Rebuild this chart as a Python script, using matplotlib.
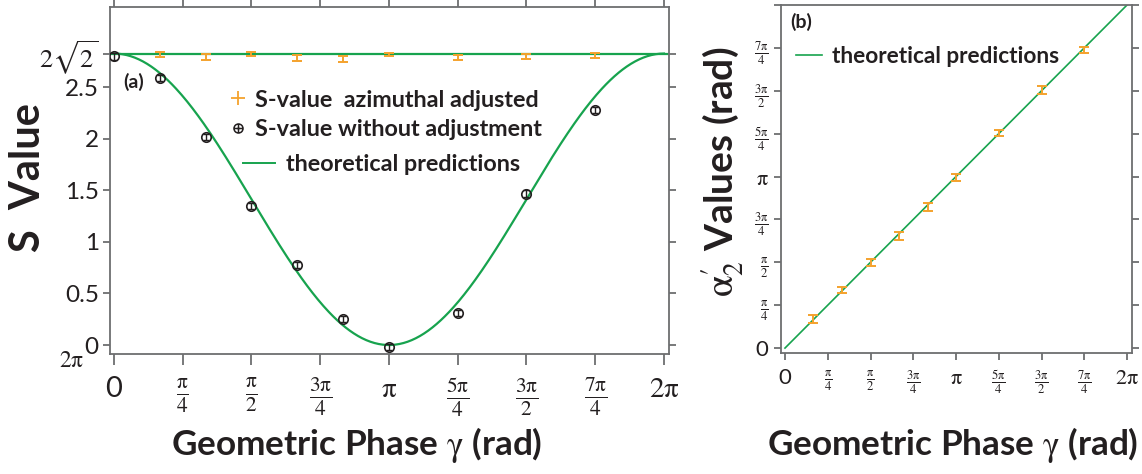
import numpy as np
import matplotlib.pyplot as plt
from matplotlib.path import Path
from matplotlib.lines import Line2D

pi = np.pi

# panel (a): Bell S-value vs geometric phase
gamma_raw = pi * np.array([0, 1/6, 1/3, 1/2, 2/3, 5/6, 1, 5/4, 3/2, 7/4])
s_raw = [2.80, 2.59, 2.02, 1.35, 0.78, 0.25, -0.02, 0.31, 1.47, 2.28]
s_raw_err = [0.03, 0.03, 0.03, 0.03, 0.03, 0.03, 0.03, 0.03, 0.03, 0.03]

gamma_adj = pi * np.array([1/6, 1/3, 1/2, 2/3, 5/6, 1, 5/4, 3/2, 7/4])
s_adj = [2.82, 2.795, 2.82, 2.785, 2.775, 2.82, 2.79, 2.80, 2.81]
s_adj_err = [0.025, 0.025, 0.02, 0.025, 0.025, 0.015, 0.025, 0.025, 0.025]

# panel (b): alpha'_2 vs geometric phase
gamma_b = gamma_adj
alpha2 = [0.53, 1.06, 1.57, 2.05, 2.58, 3.12, 3.94, 4.73, 5.46]
alpha2_err = [0.07, 0.06, 0.06, 0.07, 0.07, 0.06, 0.05, 0.07, 0.05]

PI = r'\mathrm{\pi}'
pi_ticks = pi * np.arange(9) / 4
pi_labels = ['0', r'$\frac{%s}{4}$' % PI, r'$\frac{%s}{2}$' % PI, r'$\frac{3%s}{4}$' % PI,
             r'$%s$' % PI, r'$\frac{5%s}{4}$' % PI, r'$\frac{3%s}{2}$' % PI,
             r'$\frac{7%s}{4}$' % PI, r'$2%s$' % PI]

GREEN = '#17a34e'
ORANGE = '#f4a22d'
DARK = '#231f20'
AXC = '#6d6e70'

plt.rcParams['font.family'] = ['Lato', 'DejaVu Sans']
plt.rcParams['mathtext.fontset'] = 'stix'

# circle with a plus inside
oplus = Path.make_compound_path(
    Path.unit_circle(),
    Path([(-1, 0), (1, 0)], [Path.MOVETO, Path.LINETO]),
    Path([(0, -1), (0, 1)], [Path.MOVETO, Path.LINETO]))

fig = plt.figure(figsize=(11.42, 4.74), dpi=100)
ax = fig.add_axes([0.0963, 0.2532, 0.4895, 0.732])
bx = fig.add_axes([0.6839, 0.2553, 0.3074, 0.7342])

# ---- (a)
g = np.linspace(0, 2 * pi, 400)
ax.plot(g, np.sqrt(2) * (1 + np.cos(g)), color=GREEN, lw=1.6, zorder=2)
ax.plot([-0.1, 2 * pi + 0.1], [2 * np.sqrt(2)] * 2, color=GREEN, lw=1.6, zorder=2)
ax.errorbar(gamma_adj, s_adj, yerr=s_adj_err, fmt='none', ecolor=ORANGE,
            elinewidth=1.4, capsize=3.5, capthick=1.4, zorder=3)
ax.errorbar(gamma_raw, s_raw, yerr=s_raw_err, fmt='none', ecolor=DARK,
            elinewidth=1.0, capsize=2.2, zorder=3)
ax.plot(gamma_raw, s_raw, ls='none', marker='o', ms=6.8, mfc='none', mec=DARK,
        mew=1.2, zorder=4)

ax.set_xlim(-0.046, 2 * pi + 0.057)
ax.set_ylim(-0.087, 3.28)
ax.set_xticks(pi_ticks)
ax.set_xticklabels(pi_labels)
ax.set_yticks([0, 0.5, 1, 1.5, 2, 2.5, 2 * np.sqrt(2)])
ax.set_yticklabels(['0', '0.5', '1', '1.5', '2', '2.5', r'$2\sqrt{2}$'])
ax.tick_params(axis='x', which='both', direction='out', length=8, width=1.3,
               color=AXC, labelsize=21, pad=8, top=True, labeltop=False,
               labelcolor=DARK)
ax.tick_params(axis='y', direction='out', length=5, width=1.3, color=AXC,
               labelsize=17.5, pad=3, right=True, labelright=False, labelcolor=DARK)
for lab in ax.get_xticklabels()[1:-1]:
    if lab.get_text() != r'$%s$' % PI:
        lab.set_fontsize(22)
ax.get_yticklabels()[-1].set_fontsize(19)
ax.set_ylabel('S  Value', fontsize=30, fontweight='bold', color=DARK)
ax.yaxis.set_label_coords(-0.112, 0.51)
ax.text(-0.046, -0.018, r'$2%s$' % PI, transform=ax.transAxes, fontsize=17,
        ha='right', va='center', color=DARK)
ax.text(0.024, 0.785, '(a)', transform=ax.transAxes, fontsize=14,
        fontweight='bold', color=DARK, va='center')

leg_prop = {'size': 16.8, 'weight': 'bold'}
leg1 = ax.legend(
    [Line2D([], [], ls='none', marker='+', ms=10, mew=1.3, color=ORANGE),
     Line2D([], [], ls='none', marker=oplus, ms=6.5, mfc='none', mec=DARK, mew=1.1)],
    ['S-value  azimuthal adjusted', 'S-value without adjustment'],
    loc='center left', bbox_to_anchor=(0.212, 0.689), frameon=False, prop=leg_prop,
    handlelength=0.8, handletextpad=0.35, labelspacing=0.37, borderaxespad=0,
    borderpad=0, labelcolor=DARK)
ax.add_artist(leg1)
ax.legend([Line2D([], [], color=GREEN, lw=1.4)], ['theoretical predictions'],
          loc='center left', bbox_to_anchor=(0.238, 0.545), frameon=False,
          prop=leg_prop, handlelength=1.37, handletextpad=0.47, borderaxespad=0,
          borderpad=0, labelcolor=DARK)

# ---- (b)
bx.plot([0, 2 * pi], [0, 2 * pi], color=GREEN, lw=1.2, zorder=2)
bx.errorbar(gamma_b, alpha2, yerr=alpha2_err, fmt='none', ecolor=ORANGE,
            elinewidth=1.4, capsize=3.5, capthick=1.4, zorder=3)
bx.set_xlim(-0.073, 2 * pi + 0.092)
bx.set_ylim(-0.09, 2 * pi)
bx.set_xticks(pi_ticks)
bx.set_xticklabels(pi_labels)
bx.set_yticks(pi_ticks)
bx.set_yticklabels(pi_labels[:-1] + [''])
bx.tick_params(axis='both', direction='out', length=5, width=1.3, color=AXC,
               labelsize=13, labelcolor=DARK)
bx.tick_params(axis='x', pad=6)
bx.tick_params(axis='y', right=True, pad=4)
for lab in bx.get_xticklabels() + bx.get_yticklabels():
    if lab.get_text() in ('0', r'$%s$' % PI, r'$2%s$' % PI):
        lab.set_fontsize(16)
bx.set_ylabel(r"$\mathrm{\alpha}_2'$ Values (rad)", fontsize=28, fontweight='bold',
              color=DARK)
bx.yaxis.set_label_coords(-0.1, 0.52)
bx.text(0.025, 0.951, '(b)', transform=bx.transAxes, fontsize=14,
        fontweight='bold', color=DARK, va='center')
bx.legend([Line2D([], [], color=GREEN, lw=1.2)], ['theoretical predictions'],
          loc='center left', bbox_to_anchor=(0.043, 0.851), frameon=False,
          prop={'size': 16.3, 'weight': 'bold'}, handlelength=1.15,
          handletextpad=0.44, borderaxespad=0, borderpad=0, labelcolor=DARK)

for a in (ax, bx):
    for sp in a.spines.values():
        sp.set_color(AXC)
        sp.set_linewidth(1.3)

xlab = r'Geometric Phase $\mathrm{\gamma}$ (rad)'
fig.text(0.3127, 0.062, xlab, fontsize=25.3, fontweight='bold',
         ha='center', va='center', color=DARK)
fig.text(0.834, 0.062, xlab, fontsize=25.3, fontweight='bold',
         ha='center', va='center', color=DARK)

fig.savefig('out.png', dpi=100)
